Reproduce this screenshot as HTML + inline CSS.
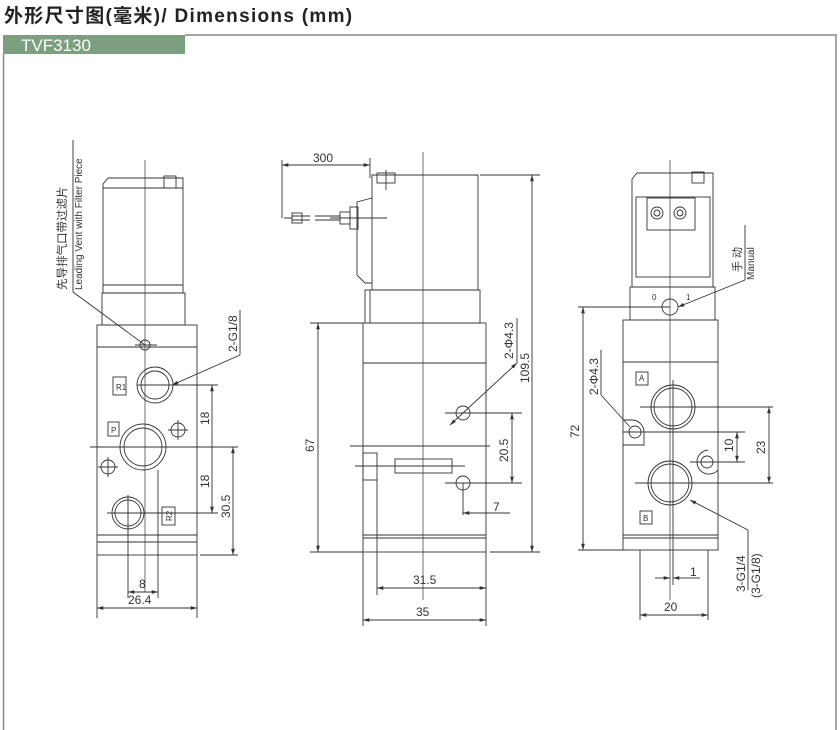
<!DOCTYPE html>
<html><head><meta charset="utf-8"><style>
html,body{margin:0;padding:0;background:#fff;}
body{width:840px;height:730px;overflow:hidden;position:relative;font-family:"Liberation Sans","Noto Sans CJK SC",sans-serif;}
.t{position:absolute;left:4px;top:1px;font-size:19px;letter-spacing:1.3px;font-weight:bold;color:#222;}
</style></head><body>
<div class="t">外形尺寸图(毫米)/ Dimensions (mm)</div>
<svg width="840" height="730" style="position:absolute;left:0;top:0" font-family="Liberation Sans, Noto Sans CJK SC, sans-serif">
<defs>
<marker id="a" viewBox="0 0 10 10" refX="10" refY="5" markerWidth="7" markerHeight="7" orient="auto-start-reverse"><path d="M0,2L10,5L0,8z" fill="#333"/></marker>
</defs>
<rect x="3" y="35" width="182" height="19" fill="#7b9f7f"/>
<text x="21" y="51" font-size="17" fill="#fff">TVF3130</text>
<path d="M185,35H836V730M3.5,54V730" stroke="#888" stroke-width="1.5" fill="none"/>
<g stroke="#333" stroke-width="0.9" fill="none">
<!-- VIEW 1 -->
<path d="M108,178H183V293H103V184Z"/>
<path d="M103,188H183M103,285H183"/>
<rect x="164" y="176" width="12" height="12"/>
<rect x="102" y="293" width="83" height="32"/>
<rect x="97" y="325" width="100" height="230"/>
<path d="M97,347H197M97,535H197M97,542H197"/>
<path d="M145,160V592" stroke-width="0.7"/>
<circle cx="145" cy="345" r="5"/>
<path d="M135,345H157"/>
<circle cx="155" cy="385" r="18"/><circle cx="155" cy="385" r="14"/>
<path d="M137,385H218"/>
<circle cx="143" cy="447" r="23"/><circle cx="143" cy="447" r="19"/>
<path d="M90,447H238"/>
<circle cx="128" cy="513" r="16"/><circle cx="128" cy="513" r="13"/>
<path d="M107,513H218M128,495V598M158,470V598"/>
<circle cx="178" cy="430" r="7"/><path d="M168,430H188M178,420V440"/>
<circle cx="108" cy="467" r="7"/><path d="M98,467H118M108,457V477"/>
<rect x="113" y="377" width="13" height="18"/>
<rect x="108" y="422" width="11" height="14"/>
<rect x="162" y="507" width="13" height="18"/>
<path d="M212,385V513" marker-start="url(#a)" marker-end="url(#a)"/>
<path d="M233,447V555" marker-start="url(#a)" marker-end="url(#a)"/>
<path d="M200,555H238M97,555V618M197,555V618"/>
<path d="M128,592H158" marker-start="url(#a)" marker-end="url(#a)"/>
<path d="M97,608H197" marker-start="url(#a)" marker-end="url(#a)"/>
<path d="M73,140V292L145,345"/>
<path d="M240,355L172,385" marker-end="url(#a)"/>
<path d="M240,310V355"/>
<!-- VIEW 2 -->
<path d="M372,175H478V290H372Z"/>
<rect x="377" y="173" width="18" height="10"/>
<path d="M386,170V190"/>
<path d="M372,198L357,202V275L365,283H372"/>
<rect x="350" y="207" width="8" height="22"/>
<rect x="340" y="212" width="10" height="12"/>
<path d="M340,216H315M340,220H315M310,216H292M310,220H292"/>
<rect x="292" y="213" width="10" height="10"/>
<path d="M284,218H292M330,218H387"/>
<rect x="365" y="290" width="115" height="33"/>
<path d="M370,290V323"/>
<rect x="363" y="323" width="123" height="229"/>
<path d="M363,363H486M363,535H486M363,538H486"/>
<path d="M423,152V600" stroke-width="0.7"/>
<circle cx="463" cy="413" r="7"/><path d="M445,413H522"/>
<circle cx="463" cy="483" r="7"/><path d="M445,483H522M463,483V515"/>
<rect x="395" y="459" width="57" height="14"/>
<path d="M355,466H465M350,446H490"/>
<rect x="363" y="453" width="14" height="27"/>
<path d="M377,480V595"/>
<path d="M318,323V552" marker-start="url(#a)" marker-end="url(#a)"/>
<path d="M310,323H363M310,552H363"/>
<path d="M532,175V552" marker-start="url(#a)" marker-end="url(#a)"/>
<path d="M480,175H540M490,552H540"/>
<path d="M282,165H370" marker-start="url(#a)" marker-end="url(#a)"/>
<path d="M282,160V218M370,158V178"/>
<path d="M512,413V483" marker-start="url(#a)" marker-end="url(#a)"/>
<path d="M463,513H510" marker-start="url(#a)"/>
<path d="M377,588H486" marker-start="url(#a)" marker-end="url(#a)"/>
<path d="M363,620H486" marker-start="url(#a)" marker-end="url(#a)"/>
<path d="M363,552V626M486,552V626"/>
<path d="M517,363L450,425" marker-start="url(#a)" marker-end="url(#a)"/>
<path d="M517,318V363"/>
<!-- VIEW 3 -->
<path d="M637,173H713V287H632V179Z"/>
<rect x="636" y="197" width="74" height="80"/>
<rect x="647" y="198" width="48" height="32"/>
<circle cx="657" cy="213" r="6"/><circle cx="657" cy="213" r="3"/>
<circle cx="680" cy="213" r="6"/><circle cx="680" cy="213" r="3"/>
<rect x="692" y="172" width="12" height="11"/>
<rect x="630" y="287" width="85" height="33"/>
<circle cx="670" cy="307" r="8"/>
<rect x="623" y="320" width="95" height="230"/>
<path d="M623,362H718M623,535H718M623,538H718"/>
<path d="M670,160V600" stroke-width="0.7"/>
<circle cx="673" cy="407" r="22"/><circle cx="673" cy="407" r="19"/>
<path d="M640,407H773"/>
<circle cx="670" cy="483" r="22"/><circle cx="670" cy="483" r="19"/>
<path d="M635,483H773M673,380V585"/>
<path d="M623,420H632A12,12 0 0 1 644,432V445H623"/>
<circle cx="635" cy="432" r="6"/><path d="M623,432H745"/>
<path d="M708,450A12,12 0 0 0 697,462A12,12 0 0 0 718,470"/>
<circle cx="707" cy="462" r="6"/><path d="M690,462H745"/>
<rect x="636" y="372" width="12" height="13"/>
<rect x="640" y="511" width="12" height="13"/>
<path d="M583,307V550" marker-start="url(#a)" marker-end="url(#a)"/>
<path d="M578,307H670M578,550H630"/>
<path d="M769,407V483" marker-start="url(#a)" marker-end="url(#a)"/>
<path d="M737,432V462" marker-start="url(#a)" marker-end="url(#a)"/>
<path d="M688,578H700"/>
<path d="M655,578H670" marker-end="url(#a)"/>
<path d="M688,578H673" marker-end="url(#a)"/>
<path d="M640,615H708" marker-start="url(#a)" marker-end="url(#a)"/>
<path d="M640,550V620M708,550V620"/>
<path d="M745,280L678,307" marker-end="url(#a)"/>
<path d="M745,225V280"/>
<path d="M601,395L630,427"/>
<path d="M601,350V395"/>
<path d="M748,530L690,500" marker-end="url(#a)"/>
<path d="M748,530V590"/>
</g>
<g fill="#333" font-size="12">
<text transform="translate(66,290) rotate(-90)" font-size="11.5">先导排气口带过滤片</text>
<text transform="translate(82,290) rotate(-90)" font-size="10">Leading Vent with Filter Piece</text>
<text transform="translate(237,352) rotate(-90)">2-G1/8</text>
<text x="116" y="390" font-size="8">R1</text>
<text x="111" y="433" font-size="8">P</text>
<text transform="translate(172,521) rotate(-90)" font-size="8">R2</text>
<text transform="translate(209,425) rotate(-90)">18</text>
<text transform="translate(209,488) rotate(-90)">18</text>
<text transform="translate(230,518) rotate(-90)">30.5</text>
<text x="139" y="588">8</text>
<text x="128" y="604">26.4</text>
<text x="313" y="162">300</text>
<text transform="translate(314,452) rotate(-90)">67</text>
<text transform="translate(529,383) rotate(-90)">109.5</text>
<text transform="translate(513,359) rotate(-90)">2-Φ4.3</text>
<text transform="translate(508,462) rotate(-90)">20.5</text>
<text x="493" y="511">7</text>
<text x="413" y="584">31.5</text>
<text x="416" y="616">35</text>
<text x="652" y="300" font-size="8">0</text>
<text x="686" y="300" font-size="8">1</text>
<text transform="translate(741,272) rotate(-90)" font-size="11">手 动</text>
<text transform="translate(754,280) rotate(-90)" font-size="10">Manual</text>
<text transform="translate(598,395) rotate(-90)">2-Φ4.3</text>
<text x="639" y="381" font-size="8">A</text>
<text x="643" y="521" font-size="8">B</text>
<text transform="translate(579,438) rotate(-90)">72</text>
<text transform="translate(765,454) rotate(-90)">23</text>
<text transform="translate(733,452) rotate(-90)">10</text>
<text x="690" y="576">1</text>
<text x="664" y="611">20</text>
<text transform="translate(745,592) rotate(-90)">3-G1/4</text>
<text transform="translate(760,598) rotate(-90)">(3-G1/8)</text>
</g>
</svg>
</body></html>
